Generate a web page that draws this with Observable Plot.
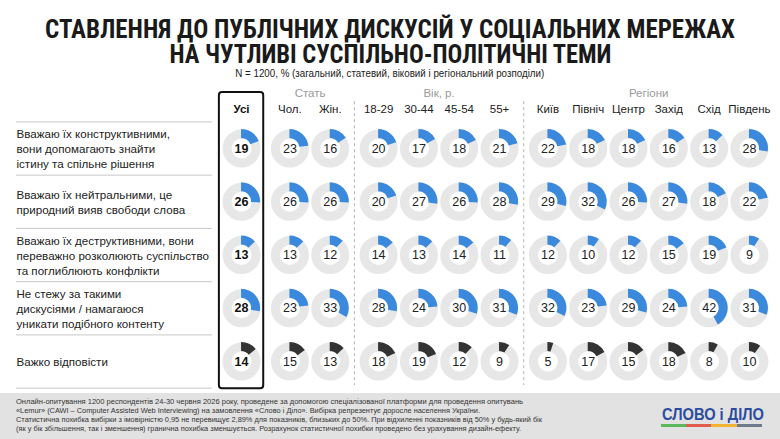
<!DOCTYPE html>
<html><head><meta charset="utf-8">
<script src="https://cdn.jsdelivr.net/npm/d3@7"></script>
<script src="https://cdn.jsdelivr.net/npm/@observablehq/plot@0.6"></script>
<style>
body{margin:0;background:#fff;width:780px;height:439px;overflow:hidden;font-family:"Liberation Sans",Arial,sans-serif;color:#222}
#head{height:82px;position:relative}
.t{position:absolute;left:0;right:0;top:17px;margin:0;text-align:center;font-family:"Liberation Sans Narrow","Arial Narrow","Roboto Condensed","Liberation Sans",sans-serif;font-weight:bold;font-size:26px;line-height:25px;color:#1a1a1a;white-space:nowrap}
.sub{position:absolute;left:0;right:0;top:67px;text-align:center;font-family:"Liberation Sans",Arial,sans-serif;font-size:11px;line-height:13px;color:#222;white-space:nowrap}
.fit{display:inline-block;transform-origin:center center}
#chart{height:311px}
#foot{height:46px;background:#e2e2e2;position:relative;overflow:hidden}
.ft{position:absolute;left:16px;top:4px;font-family:"Liberation Sans",Arial,sans-serif;font-size:8px;line-height:9px;color:#333;white-space:nowrap}
.ft .fit, .logo .fit{transform-origin:left center}
.logo{position:absolute;left:662px;top:14px;font-family:"Liberation Sans","DejaVu Sans",sans-serif;font-weight:bold;font-size:17px;line-height:16px;color:#2c4c9f;white-space:nowrap}
.bar{position:absolute;left:661px;top:31px;width:101px;height:3px;background:linear-gradient(to right,#5cb85c 0 25%,#e15b51 25% 50%,#f2b233 50% 75%,#6f7b8a 75% 100%)}
</style></head>
<body>
<div id="head">
  <h1 class="t"><span class="fit" data-w="690">СТАВЛЕННЯ ДО ПУБЛІЧНИХ ДИСКУСІЙ У СОЦІАЛЬНИХ МЕРЕЖАХ</span><br><span class="fit" data-w="442">НА ЧУТЛИВІ СУСПІЛЬНО-ПОЛІТИЧНІ ТЕМИ</span></h1>
  <div class="sub"><span class="fit" data-w="309">N = 1200, % (загальний, статевий, віковий і регіональний розподіли)</span></div>
</div>
<div id="chart"></div>
<div id="foot">
  <div class="ft">
    <span class="fit" data-w="507">Онлайн-опитування 1200 респондентів 24-30 червня 2026 року, проведене за допомогою спеціалізованої платформи для проведення опитувань</span><br>
    <span class="fit" data-w="464">«Lemur» (CAWI – Computer Assisted Web Interviewing) на замовлення «Слово і Діло». Вибірка репрезентує доросле населення України.</span><br>
    <span class="fit" data-w="526">Статистична похибка вибірки з імовірністю 0,95 не перевищує 2,89% для показників, близьких до 50%. При відхиленні показників від 50% у будь-який бік</span><br>
    <span class="fit" data-w="505">(як у бік збільшення, так і зменшення) гранична похибка зменшується. Розрахунок статистичної похибки проведено без урахування дизайн-ефекту.</span>
  </div>
  <div class="logo"><span class="fit" data-w="102">СЛОВО і ДІЛО</span></div>
  <div class="bar"></div>
</div>
<script>
// ---- data ----
const columns = ["Усі", "Чол.", "Жін.", "18-29", "30-44", "45-54", "55+", "Київ", "Північ", "Центр", "Захід", "Схід", "Південь"];
const columnGroup = [0, 1, 1, 2, 2, 2, 2, 3, 3, 3, 3, 3, 3];
const groupLabels = ["", "Стать", "Вік, р.", "Регіони"];
const rowLabels = [
  "Вважаю їх конструктивними,\nвони допомагають знайти\nістину та спільне рішення",
  "Вважаю їх нейтральними, це\nприродний вияв свободи слова",
  "Вважаю їх деструктивними, вони\nпереважно розколюють суспільство\nта поглиблюють конфлікти",
  "Не стежу за такими\nдискусіями / намагаюся\nуникати подібного контенту",
  "Важко відповісти"
];
const constructive = [19, 23, 16, 20, 17, 18, 21, 22, 18, 18, 16, 13, 28];
const neutral      = [26, 26, 26, 20, 27, 26, 28, 29, 32, 26, 27, 18, 22];
const destructive  = [13, 13, 12, 14, 13, 14, 11, 12, 10, 12, 15, 19, 9];
const notFollowing = [28, 23, 33, 28, 24, 30, 31, 32, 23, 29, 24, 42, 31];
const hardToSay    = [14, 15, 13, 18, 19, 12, 9, 5, 17, 15, 18, 8, 10];
const series = [constructive, neutral, destructive, notFollowing, hardToSay];

// ---- layout helpers ----
const groupGap = 0.2;
const colPos = columns.map((c, i) => i + groupGap * columnGroup[i]);
const cols = columns.map((name, i) => ({name, x: colPos[i], bold: i === 0}));
const groups = groupLabels.map((label, g) => {
  const xs = colPos.filter((_, i) => columnGroup[i] === g);
  return {label, x: d3.mean(xs)};
}).filter(d => d.label);
const seps = [];
for (let i = 1; i < columns.length; i++) {
  if (columnGroup[i] !== columnGroup[i - 1] && columnGroup[i - 1] > 0) seps.push((colPos[i] + colPos[i - 1]) / 2);
}
const cells = [];
series.forEach((vals, r) => vals.forEach((v, c) => cells.push({x: colPos[c], y: r, value: v, bold: c === 0, dark: r === series.length - 1})));
const rows = rowLabels.map((text, i) => ({text, y: i}));
const rowRules = d3.range(rowLabels.length + 1).map(i => i - 0.5);

const rOut = 19, rIn = 10;
const BLUE = "#3a89dc", DARK = "#333333", TRACK = "#e7e7e7";

function arcs(index, scales) {
  const g = d3.create("svg:g");
  const arc = d3.arc().innerRadius(rIn).outerRadius(rOut);
  for (const c of cells) {
    g.append("path")
      .attr("transform", `translate(${scales.x(c.x)},${scales.y(c.y)})`)
      .attr("d", arc({startAngle: 0, endAngle: 2 * Math.PI * c.value / 100}))
      .attr("fill", c.dark ? DARK : BLUE);
  }
  return g.node();
}

const plot = Plot.plot({
  width: 780,
  height: 311,
  margin: 0,
  style: {fontFamily: "'Liberation Sans', Arial, sans-serif", color: "#222", background: "transparent"},
  x: {type: "linear", domain: [-5.98, 13.37], axis: null},
  y: {type: "linear", domain: [4.6, -1.24], axis: null},
  marks: [
    Plot.ruleY(rowRules, {y: d => d, stroke: "#c8c8c8", strokeWidth: 1, insetLeft: 16, insetRight: 568}),
    Plot.ruleX(seps, {x: d => d, y1: -0.88, y2: 4.45, stroke: "#b5b5b5", strokeDasharray: "3,3"}),
    Plot.rect([cols[0]], {x1: d => d.x - 0.55, x2: d => d.x + 0.55, y1: -1.05, y2: 4.51, fill: "none", stroke: "#111", strokeWidth: 2, rx: 3}),
    Plot.text(rows, {y: "y", text: "text", frameAnchor: "left", textAnchor: "start", dx: 16, fontSize: 11.6, lineHeight: 1.3, fill: "#222"}),
    Plot.text(groups, {x: "x", y: () => -1.03, text: "label", fontSize: 11.5, fill: "#9a9a9a"}),
    Plot.text(cols.filter(d => d.bold), {x: "x", y: () => -0.73, text: "name", fontSize: 11.5, fontWeight: "bold", fill: "#111"}),
    Plot.text(cols.filter(d => !d.bold), {x: "x", y: () => -0.73, text: "name", fontSize: 11.5, fill: "#222"}),
    Plot.dot(cells, {x: "x", y: "y", r: (rOut + rIn) / 2, stroke: TRACK, strokeWidth: rOut - rIn, fill: "none"}),
    arcs,
    Plot.text(cells.filter(d => d.bold), {x: "x", y: "y", text: "value", fontSize: 12.5, fontWeight: "bold", fill: "#111"}),
    Plot.text(cells.filter(d => !d.bold), {x: "x", y: "y", text: "value", fontSize: 12.5, fill: "#222"})
  ]
});
document.getElementById("chart").append(plot);

// fit text widths
document.querySelectorAll(".fit").forEach(el => {
  const w = +el.dataset.w, cur = el.getBoundingClientRect().width;
  if (cur > 0) el.style.transform = `scaleX(${w / cur})`;
});
</script>
</body></html>
